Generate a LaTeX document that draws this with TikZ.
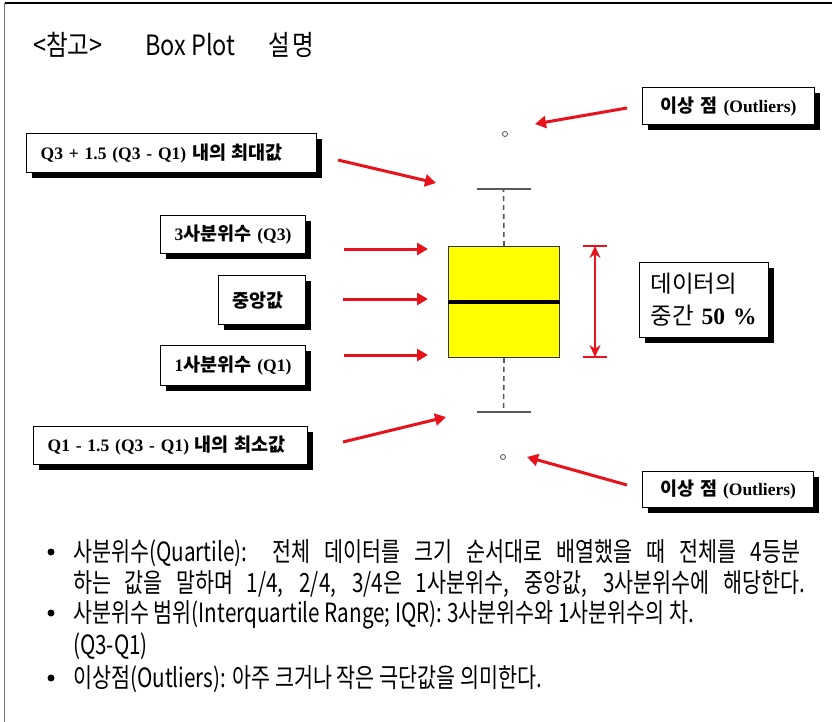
\documentclass[tikz,border=0pt]{standalone}
\usepackage{fontspec}
\setmainfont{Noto Sans CJK KR}
\newfontfamily\bodyf[FakeStretch=0.78]{Noto Sans CJK KR}
\newfontfamily\titlef[FakeStretch=0.84]{Noto Sans CJK KR}
\newfontfamily\tms{Liberation Serif}
\newcommand{\kb}[1]{{\fontsize{18.5}{20}\selectfont\bfseries #1}}
\usetikzlibrary{arrows.meta,shadows,calc}
\definecolor{arrred}{RGB}{232,18,28}
\definecolor{boxyel}{RGB}{255,255,0}
\begin{document}
\begin{tikzpicture}[x=1pt,y=-1pt,
  lbl/.style={draw=black, line width=1.3pt, fill=white, inner xsep=14pt, inner ysep=0pt,
    anchor=north west, align=left,
    drop shadow={shadow xshift=5pt, shadow yshift=-5pt, opacity=1, fill=black},
    font=\fontsize{17.5}{20}\selectfont},
  clbl/.style={lbl, align=center, inner xsep=4pt},
  redarrow/.style={draw=arrred, line width=3pt, -{Triangle[length=11pt,width=12pt]}},
  whisk/.style={draw=black!65, line width=1.6pt},
  bullet/.style={circle, fill=black, inner sep=0pt, minimum size=7pt},
  bodytext/.style={anchor=base west, inner sep=0pt, font=\bodyf\fontsize{26.5}{28}\selectfont},
]
\useasboundingbox (0,0) rectangle (832,722);
% frame
\draw[black!55, line width=1.5pt] (4.5,722) -- (4.5,3);
\draw[black, line width=1.8pt] (4.5,3) -- (832,3);
% title
\node[anchor=base west, inner sep=0pt, font=\titlef\fontsize{28}{30}\selectfont] (title) at (33,56)
  {\makebox[112pt][l]{<참고>}\makebox[123pt][l]{Box Plot}설\hspace{3pt}명};

% label boxes
\node[lbl, text width=262pt, minimum height=39pt] (maxl) at (26,133)
  {{\tms\bfseries Q3 + 1.5 (Q3 - Q1)} \kb{내의 최대값}};
\node[lbl, text width=117pt, minimum height=38pt] (q3l) at (160,215)
  {{\tms\bfseries 3}\kb{사분위수} {\tms\bfseries (Q3)}};
\node[lbl, text width=59pt, minimum height=49pt] (medl) at (218,275)
  {\kb{중앙값}};
\node[lbl, text width=117pt, minimum height=40pt] (q1l) at (160,345)
  {{\tms\bfseries 1}\kb{사분위수} {\tms\bfseries (Q1)}};
\node[lbl, text width=246pt, minimum height=38pt] (minl) at (33,426)
  {{\tms\bfseries Q1 - 1.5 (Q3 - Q1)} \kb{내의 최소값}};
\node[clbl, text width=164pt, minimum height=37pt] (outt) at (642,87)
  {\kb{이상 점} {\tms\bfseries (Outliers)}};
\node[clbl, text width=163pt, minimum height=36pt] (outb) at (642,471)
  {\kb{이상 점} {\tms\bfseries (Outliers)}};
\node[lbl, inner xsep=11pt, text width=107pt, minimum height=75pt, font=\fontsize{23.5}{32}\selectfont] (mid) at (639,262)
  {\mbox{데이터의}\\\mbox{중간 {\tms\bfseries 50 \%}}};

% box plot
\node[draw=black!80, fill=boxyel, line width=1pt, minimum width=111pt, minimum height=111pt,
  inner sep=0pt, anchor=north west] (box) at (448,246) {};
\draw[black, line width=3.2pt] (box.west) -- (box.east);
\coordinate (wtop) at (503.5,189);
\coordinate (wbot) at (503.5,412);
\draw[whisk, dash pattern=on 5pt off 4pt] (box.north) -- (wtop);
\draw[whisk, dash pattern=on 5pt off 4pt] (box.south) -- (wbot);
\draw[whisk] ($(wtop)+(-27,0)$) -- ($(wtop)+(27,0)$);
\draw[whisk] ($(wbot)+(-27,0)$) -- ($(wbot)+(27,0)$);
\node[circle, draw=black!70, line width=0.8pt, minimum size=5pt, inner sep=0pt] (o1) at (505,134) {};
\node[circle, draw=black!70, line width=0.8pt, minimum size=5pt, inner sep=0pt] (o2) at (503,457) {};

% IQR double arrow
\coordinate (iqrt) at (595,246);
\coordinate (iqrb) at (595,357);
\draw[arrred, line width=2pt, {Stealth[length=12pt,width=11pt]}-{Stealth[length=12pt,width=11pt]}] (iqrt) -- (iqrb);
\draw[arrred, line width=2.5pt] ($(iqrt)+(-12,0)$) -- ($(iqrt)+(12,0)$);
\draw[arrred, line width=2.5pt] ($(iqrb)+(-12,0)$) -- ($(iqrb)+(12,0)$);

% red arrows
\coordinate (a1s) at (627,108); \coordinate (a1e) at (535,124);
\coordinate (a2s) at (338,160); \coordinate (a2e) at (436,183);
\coordinate (a3s) at (344,249); \coordinate (a3e) at (428,249);
\coordinate (a4s) at (343,299); \coordinate (a4e) at (428,299);
\coordinate (a5s) at (344,355); \coordinate (a5e) at (428,355);
\coordinate (a6s) at (343,442); \coordinate (a6e) at (446,417);
\coordinate (a7s) at (627,485); \coordinate (a7e) at (527,457);
\draw[redarrow] (a1s) -- (a1e);
\draw[redarrow] (a2s) -- (a2e);
\draw[redarrow] (a3s) -- (a3e);
\draw[redarrow] (a4s) -- (a4e);
\draw[redarrow] (a5s) -- (a5e);
\draw[redarrow] (a6s) -- (a6e);
\draw[redarrow] (a7s) -- (a7e);

% bullet text
\node[bullet] (b1) at (51,552) {};
\node[bullet] (b2) at (51,613) {};
\node[bullet] (b3) at (51,678) {};
\node[bodytext] (t1) at (73,561) {\makebox[727pt][s]{사분위수(Quartile): 전체 데이터를 크기 순서대로 배열했을 때 전체를 4등분}};
\node[bodytext] (t2) at (73,592) {\makebox[732pt][s]{하는 값을 말하며 1/4, 2/4, 3/4은 1사분위수, 중앙값, 3사분위수에 해당한다.}};
\node[bodytext] (t3) at (73,622) {사분위수 범위(Interquartile Range; IQR): 3사분위수와 1사분위수의 차.};
\node[bodytext] (t4) at (73,654) {(Q3-Q1)};
\node[bodytext] (t5) at (73,687) {이상점(Outliers): 아주 크거나 작은 극단값을 의미한다.};
\end{tikzpicture}
\end{document}
